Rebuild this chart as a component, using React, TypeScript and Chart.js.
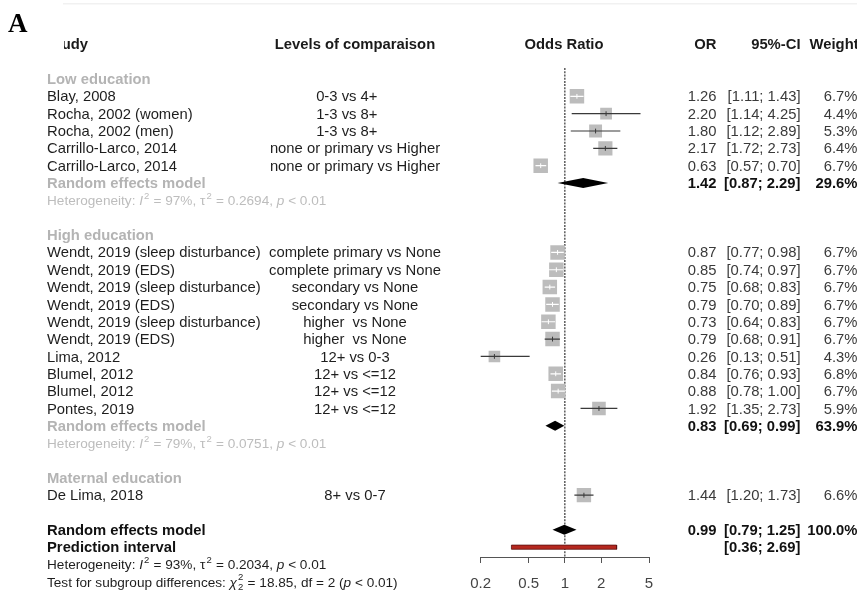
import React, { useEffect, useRef } from "react";
import { Chart, registerables } from "chart.js";

Chart.register(...registerables);

// ---------------- data ----------------
const groupNames = ["Low education", "High education", "Maternal education"];

const studyNames = [
  "Blay, 2008",
  "Rocha, 2002 (women)",
  "Rocha, 2002 (men)",
  "Carrillo-Larco, 2014",
  "Carrillo-Larco, 2014",
  "Wendt, 2019 (sleep disturbance)",
  "Wendt, 2019 (EDS)",
  "Wendt, 2019 (sleep disturbance)",
  "Wendt, 2019 (EDS)",
  "Wendt, 2019 (sleep disturbance)",
  "Wendt, 2019 (EDS)",
  "Lima, 2012",
  "Blumel, 2012",
  "Blumel, 2012",
  "Pontes, 2019",
  "De Lima, 2018",
];

const studyLevels = [
  "0-3 vs 4+    ",
  "1-3 vs 8+    ",
  "1-3 vs 8+    ",
  "none or primary vs Higher",
  "none or primary vs Higher",
  "complete primary vs None",
  "complete primary vs None",
  "secondary vs None",
  "secondary vs None",
  "higher  vs None",
  "higher  vs None",
  "12+ vs 0-3",
  "12+ vs <=12",
  "12+ vs <=12",
  "12+ vs <=12",
  "8+ vs 0-7",
];

const studyGroup = [0, 0, 0, 0, 0, 1, 1, 1, 1, 1, 1, 1, 1, 1, 1, 2];
const studyOR = [1.26, 2.2, 1.8, 2.17, 0.63, 0.87, 0.85, 0.75, 0.79, 0.73, 0.79, 0.26, 0.84, 0.88, 1.92, 1.44];
const studyLower = [1.11, 1.14, 1.12, 1.72, 0.57, 0.77, 0.74, 0.68, 0.7, 0.64, 0.68, 0.13, 0.76, 0.78, 1.35, 1.2];
const studyUpper = [1.43, 4.25, 2.89, 2.73, 0.7, 0.98, 0.97, 0.83, 0.89, 0.83, 0.91, 0.51, 0.93, 1.0, 2.73, 1.73];
const studyWeight = [6.7, 4.4, 5.3, 6.4, 6.7, 6.7, 6.7, 6.7, 6.7, 6.7, 6.7, 4.3, 6.8, 6.7, 5.9, 6.6];

const groupOR: (number | null)[] = [1.42, 0.83, null];
const groupLower: (number | null)[] = [0.87, 0.69, null];
const groupUpper: (number | null)[] = [2.29, 0.99, null];
const groupWeight: (number | null)[] = [29.6, 63.9, null];
const groupI2: (string | null)[] = ["97%", "79%", null];
const groupTau2: (string | null)[] = ["0.2694", "0.0751", null];
const groupP: (string | null)[] = ["< 0.01", "< 0.01", null];

const overallOR = 0.99;
const overallLower = 0.79;
const overallUpper = 1.25;
const overallWeight = 100.0;
const predLower = 0.36;
const predUpper = 2.69;
const overallI2 = "93%";
const overallTau2 = "0.2034";
const overallP = "< 0.01";
const subgroupChi2 = "18.85";
const subgroupDf = "2";
const subgroupP = "< 0.01";

const xTicks = [0.2, 0.5, 1, 2, 5];

// ---------------- style ----------------
const FONT = '"Liberation Sans", Arial, Helvetica, sans-serif';
const FS = 14.8;
const FS_SMALL = 13.6;
const GRAY_HEAD = "#b4b4b4";
const GRAY_HET = "#bdbdbd";
const BOX = "#bcbcbc";
const TEXT_DY = 1;

// ---------------- row layout ----------------
type RowInfo =
  | { kind: "group"; g: number; r: number }
  | { kind: "study"; i: number; r: number }
  | { kind: "summary"; g: number; r: number }
  | { kind: "het"; g: number; r: number };

function buildRows() {
  const rows: RowInfo[] = [];
  let r = 0;
  groupNames.forEach((_, g) => {
    rows.push({ kind: "group", g, r: r++ });
    studyGroup.forEach((sg, i) => {
      if (sg === g) rows.push({ kind: "study", i, r: r++ });
    });
    if (groupOR[g] !== null) {
      rows.push({ kind: "summary", g, r: r++ });
      rows.push({ kind: "het", g, r: r++ });
    }
    r++; // blank line
  });
  return { rows, overallRow: r };
}

const { rows, overallRow } = buildRows();
const studyRow = (i: number) => (rows.find((x) => x.kind === "study" && x.i === i) as any).r;
const summaryRow = (g: number) => (rows.find((x) => x.kind === "summary" && x.g === g) as any).r;

const f2 = (v: number) => v.toFixed(2);
const ci = (lo: number, hi: number) => `[${f2(lo)}; ${f2(hi)}]`;
const wt = (w: number) => `${w.toFixed(1)}%`;

type Seg = { t: string; it?: boolean; sup?: string; sub?: string };

function drawRich(ctx: CanvasRenderingContext2D, x: number, y: number, segs: Seg[], size: number, color: string) {
  let cx = x;
  ctx.fillStyle = color;
  ctx.textAlign = "left";
  ctx.textBaseline = "middle";
  for (const s of segs) {
    ctx.font = `${s.it ? "italic " : ""}${size}px ${FONT}`;
    ctx.fillText(s.t, cx, y);
    cx += ctx.measureText(s.t).width;
    if (s.sup || s.sub) {
      const ss = size * 0.7;
      ctx.font = `${ss}px ${FONT}`;
      let w = 0;
      if (s.sup) {
        ctx.fillText(s.sup, cx + 1, y - size * 0.38);
        w = ctx.measureText(s.sup).width;
      }
      if (s.sub) {
        ctx.fillText(s.sub, cx + 1, y + size * 0.32);
        w = Math.max(w, ctx.measureText(s.sub).width);
      }
      cx += w + 1.5;
    }
  }
}

const hetSegs = (i2: string, tau2: string, p: string): Seg[] => [
  { t: "Heterogeneity: " },
  { t: "I", it: true, sup: "2" },
  { t: ` = ${i2}, ` },
  { t: "τ", sup: "2" },
  { t: ` = ${tau2}, ` },
  { t: "p", it: true },
  { t: ` ${p}` },
];

const textPlugin = {
  id: "forestText",
  afterDraw(chart: any) {
    const ctx: CanvasRenderingContext2D = chart.ctx;
    const ys = chart.scales.y;
    const py = (r: number) => ys.getPixelForValue(r) + TEXT_DY;
    const xStudy = 47;
    const xLevels = 355;
    const xOR = 716.5;
    const xCI = 800.5;
    const xW = 857.5;
    ctx.save();
    ctx.textBaseline = "middle";

    const txt = (s: string, x: number, y: number, align: CanvasTextAlign, color: string, bold = false, size = FS) => {
      ctx.font = `${bold ? "bold " : ""}${size}px ${FONT}`;
      ctx.fillStyle = color;
      ctx.textAlign = align;
      ctx.fillText(s, x, y);
    };

    // faint top rule
    ctx.fillStyle = "#f1f1f1";
    ctx.fillRect(63, 3, 857 - 63, 1.5);

    // headers
    const hy = py(-2);
    txt("Study", xStudy, hy, "left", "#1a1a1a", true);
    txt("Levels of comparaison", xLevels, hy, "center", "#1a1a1a", true);
    txt("Odds Ratio", 564, hy, "center", "#1a1a1a", true);
    txt("OR", xOR, hy, "right", "#1a1a1a", true);
    txt("95%-CI", xCI, hy, "right", "#1a1a1a", true);
    txt("Weight", 858.6, hy, "right", "#1a1a1a", true);

    // panel label covering the start of the header
    ctx.fillStyle = "#ffffff";
    ctx.fillRect(40, 34, 24, 20);
    ctx.font = `bold 27px "Liberation Serif", "Times New Roman", serif`;
    ctx.fillStyle = "#000";
    ctx.textAlign = "left";
    ctx.textBaseline = "alphabetic";
    ctx.fillText("A", 8, 32);
    ctx.textBaseline = "middle";

    for (const row of rows) {
      const y = py(row.r);
      if (row.kind === "group") {
        txt(groupNames[row.g], xStudy, y, "left", GRAY_HEAD, true);
      } else if (row.kind === "study") {
        const i = row.i;
        txt(studyNames[i], xStudy, y, "left", "#1e1e1e");
        txt(studyLevels[i], xLevels, y, "center", "#1e1e1e");
        txt(f2(studyOR[i]), xOR, y, "right", "#3a3a3a");
        txt(ci(studyLower[i], studyUpper[i]), xCI, y, "right", "#3a3a3a");
        txt(wt(studyWeight[i]), xW, y, "right", "#3a3a3a");
      } else if (row.kind === "summary") {
        const g = row.g;
        txt("Random effects model", xStudy, y, "left", GRAY_HEAD, true);
        txt(f2(groupOR[g] as number), xOR, y, "right", "#111", true);
        txt(ci(groupLower[g] as number, groupUpper[g] as number), xCI, y, "right", "#111", true);
        txt(wt(groupWeight[g] as number), xW, y, "right", "#111", true);
      } else if (row.kind === "het") {
        const g = row.g;
        drawRich(ctx, xStudy, y, hetSegs(groupI2[g] as string, groupTau2[g] as string, groupP[g] as string), FS_SMALL, GRAY_HET);
      }
    }

    const yo = py(overallRow);
    txt("Random effects model", xStudy, yo, "left", "#111", true);
    txt(f2(overallOR), xOR, yo, "right", "#111", true);
    txt(ci(overallLower, overallUpper), xCI, yo, "right", "#111", true);
    txt(wt(overallWeight), xW, yo, "right", "#111", true);
    const yp = py(overallRow + 1);
    txt("Prediction interval", xStudy, yp, "left", "#111", true);
    txt(ci(predLower, predUpper), xCI, yp, "right", "#111", true);
    drawRich(ctx, xStudy, py(overallRow + 2), hetSegs(overallI2, overallTau2, overallP), FS_SMALL, "#1e1e1e");
    drawRich(
      ctx,
      xStudy,
      py(overallRow + 3),
      [
        { t: "Test for subgroup differences: " },
        { t: "χ", it: true, sup: "2", sub: subgroupDf },
        { t: ` = ${subgroupChi2}, df = ${subgroupDf} (` },
        { t: "p", it: true },
        { t: ` ${subgroupP})` },
      ],
      FS_SMALL,
      "#1e1e1e"
    );
    ctx.restore();
  },
};

// box side in px (area proportional to weight)
const boxSide = (w: number) => 14.5 * Math.sqrt(w / 6.7);

export default function App() {
  const ref = useRef<HTMLCanvasElement | null>(null);

  useEffect(() => {
    document.body.style.margin = "0";
    const canvas = ref.current;
    if (!canvas) return;

    const PX_LEFT = 480.7;
    const PX_RIGHT = 649;
    const pxPerUnit = (PX_RIGHT - PX_LEFT) / Math.log10(5 / 0.2);
    const xpx = (v: number) => PX_LEFT + Math.log10(v / 0.2) * pxPerUnit;

    const datasets: any[] = [];

    // reference line at OR = 1
    datasets.push({
      type: "line",
      data: [
        { x: 1, y: -0.63 },
        { x: 1, y: 27.6 },
      ],
      borderColor: "#333",
      borderWidth: 1.2,
      borderDash: [2, 1.2],
      pointRadius: 0,
      order: 5,
    });

    // study CI lines + boxes + centre ticks
    const boxData: any[] = [];
    const boxRadius: number[] = [];
    const tickData: any[] = [];
    const tickColor: string[] = [];
    studyOR.forEach((or, i) => {
      const r = studyRow(i);
      const side = boxSide(studyWeight[i]);
      const inside = xpx(studyLower[i]) >= xpx(or) - side / 2 && xpx(studyUpper[i]) <= xpx(or) + side / 2;
      const col = inside ? "#ffffff" : "#3a3a3a";
      datasets.push({
        type: "line",
        data: [
          { x: studyLower[i], y: r },
          { x: studyUpper[i], y: r },
        ],
        borderColor: col,
        borderWidth: 1.2,
        pointRadius: 0,
        order: 1,
      });
      boxData.push({ x: or, y: r });
      boxRadius.push(side / Math.SQRT2);
      tickData.push({ x: or, y: r });
      tickColor.push(col);
    });
    datasets.push({
      type: "line",
      showLine: false,
      data: boxData,
      pointStyle: "rect",
      pointRadius: boxRadius,
      pointBackgroundColor: BOX,
      pointBorderWidth: 0,
      order: 2,
    });
    datasets.push({
      type: "line",
      showLine: false,
      data: tickData,
      pointStyle: "line",
      pointRotation: 90,
      pointRadius: 2.4,
      pointBorderColor: tickColor,
      pointBorderWidth: 1,
      order: 0,
    });

    // diamonds
    const diamond = (est: number, lo: number, hi: number, r: number, h: number) => ({
      type: "line",
      data: [
        { x: lo, y: r },
        { x: est, y: r - h },
        { x: hi, y: r },
        { x: est, y: r + h },
        { x: lo, y: r },
      ],
      borderWidth: 0,
      borderColor: "rgba(0,0,0,0)",
      backgroundColor: "#000",
      fill: "shape",
      pointRadius: 0,
      tension: 0,
      order: 2,
    });
    groupOR.forEach((g, gi) => {
      if (g === null) return;
      datasets.push(diamond(g, groupLower[gi] as number, groupUpper[gi] as number, summaryRow(gi), 0.29));
    });
    datasets.push(diamond(overallOR, overallLower, overallUpper, overallRow, 0.29));

    // prediction interval bar
    const pr = overallRow + 1;
    const ph = 0.12;
    datasets.push({
      type: "line",
      data: [
        { x: predLower, y: pr - ph },
        { x: predUpper, y: pr - ph },
        { x: predUpper, y: pr + ph },
        { x: predLower, y: pr + ph },
        { x: predLower, y: pr - ph },
      ],
      borderWidth: 0.8,
      borderColor: "#5a1010",
      backgroundColor: "#b5281f",
      fill: "shape",
      pointRadius: 0,
      tension: 0,
      order: 2,
    });

    const chart = new Chart(canvas, {
      type: "line",
      data: { datasets },
      options: {
        animation: false,
        responsive: false,
        maintainAspectRatio: false,
        events: [],
        layout: { padding: { left: PX_LEFT, right: 857 - PX_RIGHT, top: 79 - 3 * 17.34, bottom: 0 } },
        plugins: {
          legend: { display: false },
          tooltip: { enabled: false },
          title: { display: false },
        },
        scales: {
          x: {
            type: "logarithmic",
            min: 0.2,
            max: 5,
            afterBuildTicks: (s: any) => {
              s.ticks = xTicks.map((v) => ({ value: v }));
            },
            afterFit: (s: any) => {
              s.height = 597 - 557;
            },
            ticks: {
              callback: (v: any) => String(v),
              color: "#444",
              font: { family: FONT, size: 15 },
              padding: 12,
              autoSkip: false,
              maxRotation: 0,
            },
            grid: {
              drawOnChartArea: false,
              drawTicks: true,
              tickLength: 6,
              color: "#555",
              lineWidth: 1,
            },
            border: { display: true, color: "#555", width: 1 },
          },
          y: {
            type: "linear",
            reverse: true,
            min: -3,
            max: (557 - 79) / 17.34,
            display: false,
          },
        },
      } as any,
      plugins: [textPlugin],
    });

    return () => chart.destroy();
  }, []);

  return (
    <div style={{ width: 857, height: 597, background: "#fff" }}>
      <canvas ref={ref} width={857} height={597} style={{ display: "block", width: 857, height: 597 }} />
    </div>
  );
}
